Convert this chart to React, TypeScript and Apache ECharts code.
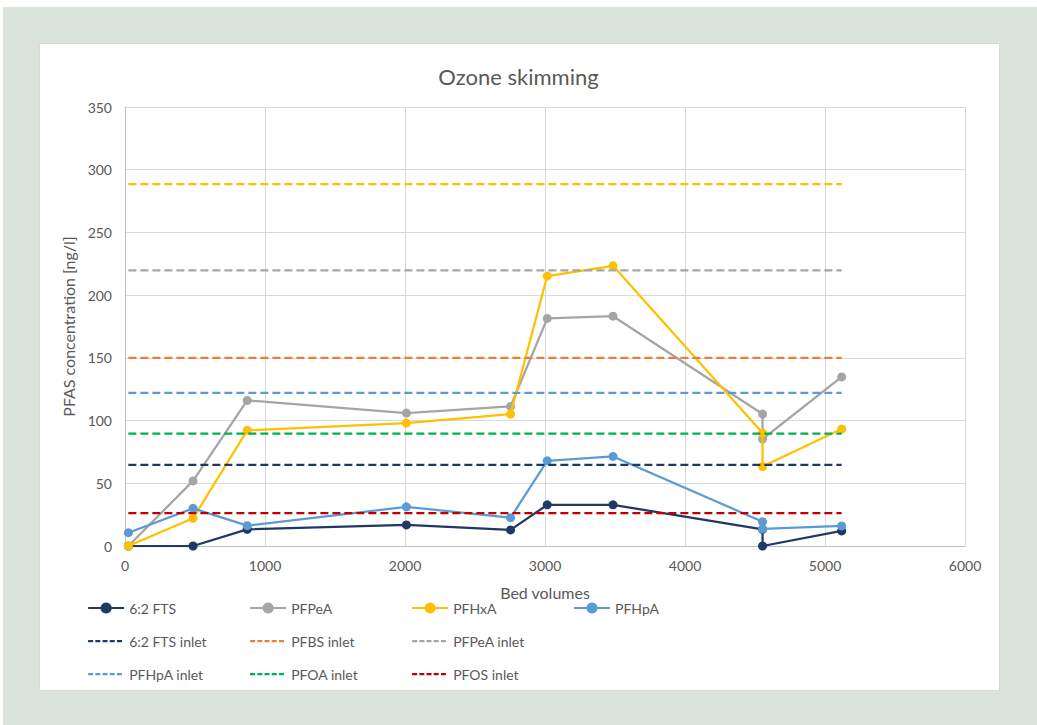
import React, { useEffect, useRef } from "react";
import * as echarts from "echarts";

const bedVolumes = [24, 486, 873, 2010, 2754, 3016, 3486, 4554, 4554, 5119];
const fts62 = [0, 0, 13.3, 16.8, 12.8, 32.8, 32.8, 13.3, 0, 12];
const pfpea = [0, 51.9, 116.1, 106, 111.3, 181.4, 183.2, 105.2, 85.3, 134.8];
const pfhxa = [0, 22.1, 92.2, 98, 105.2, 215.2, 223.4, 90, 63.4, 93.2];
const pfhpa = [10.6, 30, 16.2, 31.2, 22.6, 67.9, 71.4, 19.4, 13.6, 16];

const inletNames = ["6:2 FTS inlet", "PFBS inlet", "PFPeA inlet", "PFHxA inlet", "PFHpA inlet", "PFOA inlet", "PFOS inlet"];
const inletValues = [64.7, 150, 219.7, 288.5, 122, 89.5, 26.3];
const inletColors = ["#203864", "#ED7D31", "#A5A5A5", "#FFC000", "#5B9BD5", "#00B050", "#C00000"];

const seriesNames = ["6:2 FTS", "PFPeA", "PFHxA", "PFHpA"];
const seriesColors = ["#203864", "#A5A5A5", "#FFC000", "#5B9BD5"];
const seriesValues = [fts62, pfpea, pfhxa, pfhpa];

const yTicks = { min: 0, max: 350, interval: 50 };
const xTicks = { min: 0, max: 6000, interval: 1000 };

const legendColumns = [
  ["6:2 FTS", "6:2 FTS inlet", "PFHpA inlet"],
  ["PFPeA", "PFBS inlet", "PFOA inlet"],
  ["PFHxA", "PFPeA inlet", "PFOS inlet"],
  ["PFHpA"],
];

const FONT = "Lato, 'Open Sans', sans-serif";
const TXT = "#595959";

export default function App() {
  const ref = useRef<HTMLDivElement>(null);
  useEffect(() => {
    document.body.style.margin = "0";
    const chart = echarts.init(ref.current!, null, { renderer: "svg" });
    const dataSeries = seriesNames.map((name, i) => ({
      name,
      type: "line",
      data: bedVolumes.map((x, j) => [x, seriesValues[i][j]]),
      symbol: "circle",
      symbolSize: 9,
      color: seriesColors[i],
      lineStyle: { width: 2.25, color: seriesColors[i] },
      itemStyle: { color: seriesColors[i] },
      z: 3 + i,
    }));
    const xFirst = bedVolumes[0];
    const xLast = bedVolumes[bedVolumes.length - 1];
    const inletSeries = inletNames.map((name, i) => ({
      name,
      type: "line",
      data: [
        [xFirst, inletValues[i]],
        [xLast, inletValues[i]],
      ],
      symbol: "none",
      color: inletColors[i],
      lineStyle: { width: 2.25, type: [8, 4], color: inletColors[i] },
      itemStyle: { color: inletColors[i] },
      z: 8 + i,
    }));
    const colLefts = [82, 244, 406, 568];
    chart.setOption({
      animation: false,
      textStyle: { fontFamily: FONT },
      title: {
        text: "Ozone skimming",
        left: "center",
        top: 60,
        textStyle: { fontFamily: FONT, fontSize: 22, fontWeight: "normal", color: TXT },
      },
      graphic: [
        {
          type: "rect",
          shape: { x: 3, y: 7, width: 1034, height: 718 },
          style: { fill: "#DAE4DD" },
          z: -10,
          silent: true,
        },
        {
          type: "rect",
          shape: { x: 39.5, y: 43.5, width: 960, height: 647 },
          style: { fill: "#ffffff", stroke: "#D9D9D9", lineWidth: 1 },
          z: -9,
          silent: true,
        },
      ],
      legend: legendColumns.map((col, k) => ({
        data: col.map((name) =>
          name.endsWith("inlet")
            ? {
                name,
                lineStyle: { type: [5, 2.2], width: 2.25 },
                itemStyle: { color: "rgba(0,0,0,0)", borderWidth: 0, opacity: 0 },
              }
            : { name }
        ),
        orient: "vertical",
        left: colLefts[k],
        top: 596,
        itemWidth: 36,
        itemHeight: 14,
        itemGap: 19,
        itemTextGap: 7,
        textStyle: { fontFamily: FONT, fontSize: 14, color: TXT },
        selectedMode: false,
      })),
      grid: { left: 125, top: 107, right: 72, bottom: 179, containLabel: false },
      xAxis: {
        type: "value",
        min: xTicks.min,
        max: xTicks.max,
        interval: xTicks.interval,
        name: "Bed volumes",
        nameLocation: "middle",
        nameGap: 38,
        nameTextStyle: { fontFamily: FONT, fontSize: 16, color: TXT },
        axisLine: { show: true, lineStyle: { color: "#BFBFBF", width: 1 } },
        axisTick: { show: false },
        axisLabel: { fontFamily: FONT, fontSize: 14, color: TXT, margin: 12, formatter: (v: number) => String(v) },
        splitLine: { show: true, lineStyle: { color: "#D9D9D9", width: 1 } },
      },
      yAxis: {
        type: "value",
        min: yTicks.min,
        max: yTicks.max,
        interval: yTicks.interval,
        name: "PFAS concentration [ng/l]",
        nameLocation: "middle",
        nameGap: 45,
        nameRotate: 90,
        nameTextStyle: { fontFamily: FONT, fontSize: 16, color: TXT },
        axisLine: { show: true, lineStyle: { color: "#BFBFBF", width: 1 } },
        axisTick: { show: false },
        axisLabel: { fontFamily: FONT, fontSize: 14, color: TXT, margin: 13 },
        splitLine: { show: true, lineStyle: { color: "#D9D9D9", width: 1 } },
      },
      series: [...dataSeries, ...inletSeries],
    });
    return () => chart.dispose();
  }, []);
  return <div ref={ref} style={{ width: 1037, height: 725 }} />;
}
